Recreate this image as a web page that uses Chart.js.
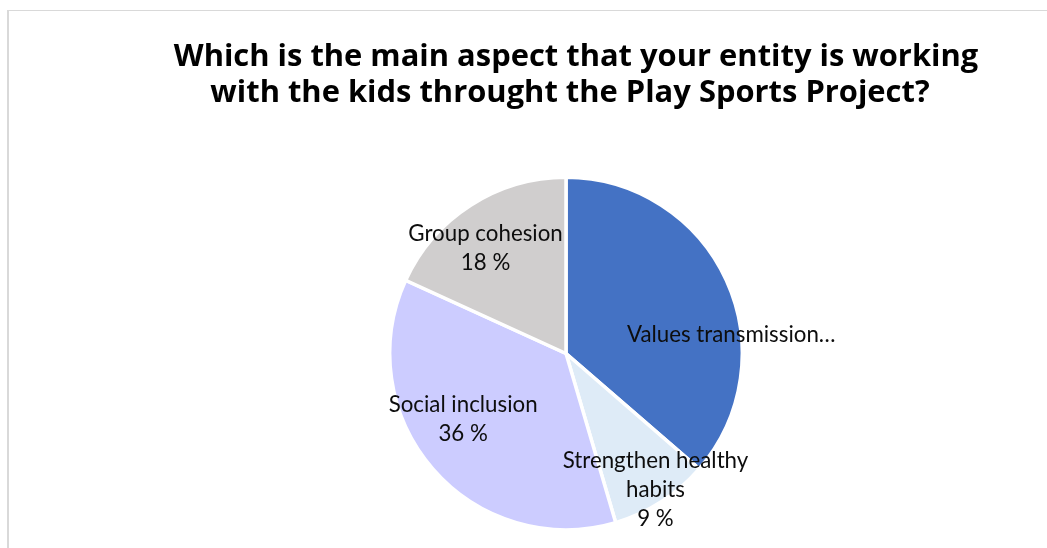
<!DOCTYPE html>
<html>
<head>
<meta charset="utf-8">
<title>Play Sports Project</title>
<script src="https://cdn.jsdelivr.net/npm/chart.js@4.4.1/dist/chart.umd.min.js"></script>
<style>
  html, body { margin: 0; padding: 0; background: #fff; }
  #wrap { position: relative; width: 1047px; height: 548px; overflow: hidden; }
  #frame {
    position: absolute; left: 7px; top: 10px; right: -4px; bottom: -4px;
    border-top: 1px solid #d9d9d9; border-left: 2px solid #d9d9d9;
  }
  canvas { position: absolute; left: 0; top: 0; }
</style>
</head>
<body>
<div id="wrap">
  <div id="frame"></div>
  <canvas id="pie" width="1047" height="548"></canvas>
</div>
<script>
// --- data ---
const titleLines = [
    'Which is the main aspect that your entity is working',
    'with the kids throught the Play Sports Project?'
];
const categories = ['Values transmission', 'Strengthen healthy habits', 'Social inclusion', 'Group cohesion'];
const percentages = [36, 9, 36, 18];
const sliceColors = ['#4472C4', '#DEEBF7', '#CCCCFF', '#D0CECE'];

// label placement: fraction of radius along the slice middle, then a small nudge
const labelSetup = [
    { frac: 0.75, dx: 45, dy: 35, truncate: true },
    { frac: 0.75, dx: 18, dy: 24 },
    { frac: 0.75, dx: -3, dy: -22 },
    { frac: 0.75, dx: -9, dy: 5 }
];

const LABEL_FONT = '22.3px Lato';
const LABEL_LINE = 29;
const LABEL_WRAP = 190;
const TITLE_FONT = 'bold 30.9px "Open Sans"';

function wrapWords(ctx, text, maxWidth) {
    const words = text.split(' ');
    const lines = [];
    let cur = '';
    words.forEach(w => {
        const test = cur ? cur + ' ' + w : w;
        if (cur && ctx.measureText(test).width > maxWidth) {
            lines.push(cur);
            cur = w;
        } else {
            cur = test;
        }
    });
    if (cur) lines.push(cur);
    return lines;
}

// title on top, two centered lines
const titlePlugin = {
    id: 'topTitle',
    afterDraw(chart) {
        const ctx = chart.ctx;
        ctx.save();
        ctx.font = TITLE_FONT;
        ctx.fillStyle = '#000000';
        ctx.textAlign = 'center';
        ctx.textBaseline = 'alphabetic';
        ctx.fillText(titleLines[0], 576, 66);
        ctx.fillText(titleLines[1], 570, 102);
        ctx.restore();
    }
};

// category name + percentage inside each slice
const sliceLabels = {
    id: 'sliceLabels',
    afterDatasetsDraw(chart) {
        const ctx = chart.ctx;
        const meta = chart.getDatasetMeta(0);
        ctx.save();
        ctx.font = LABEL_FONT;
        ctx.fillStyle = '#0D0D0D';
        ctx.textAlign = 'center';
        ctx.textBaseline = 'alphabetic';
        meta.data.forEach((arc, i) => {
            const p = arc.getProps(['x', 'y', 'startAngle', 'endAngle', 'outerRadius'], true);
            const mid = (p.startAngle + p.endAngle) / 2;
            const set = labelSetup[i];
            const r = p.outerRadius * set.frac;
            const ax = p.x + Math.cos(mid) * r + set.dx;
            const ay = p.y + Math.sin(mid) * r + set.dy;

            let lines;
            if (set.truncate) {
                lines = [categories[i] + '\u2026'];
            } else {
                lines = wrapWords(ctx, categories[i], LABEL_WRAP);
                lines.push(percentages[i] + ' %');
            }
            lines.forEach((line, k) => {
                const by = ay + (k - (lines.length - 1) / 2) * LABEL_LINE + 8;
                ctx.fillText(line, ax, by);
            });
        });
        ctx.restore();
    }
};

new Chart(document.getElementById('pie'), {
    type: 'pie',
    data: {
        labels: categories,
        datasets: [{
            data: percentages,
            backgroundColor: sliceColors,
            borderColor: '#ffffff',
            borderWidth: 3.5
        }]
    },
    options: {
        responsive: false,
        animation: false,
        layout: { padding: { top: 175.5, bottom: 16.5, left: 85, right: 0 } },
        plugins: {
            legend: { display: false },
            title: { display: false },
            tooltip: { enabled: false }
        }
    },
    plugins: [sliceLabels, titlePlugin]
});
</script>
</body>
</html>
